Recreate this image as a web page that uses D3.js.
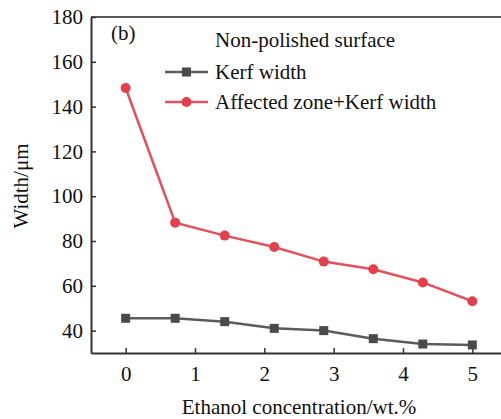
<!DOCTYPE html>
<html lang="en">
<head>
    <meta charset="utf-8">
    <style type="text/css">
        body { margin: 0; background: #fff; }
        .axis path, .axis line { stroke: #333; }
    </style>
</head>
<body>
<svg width="501" height="419"></svg>

<script src="https://d3js.org/d3.v7.min.js" type="text/javascript"></script>

<script type="text/javascript">
    // eight samples spread evenly over the 0-5 axis
    var xValues = [0, 5 / 7, 10 / 7, 15 / 7, 20 / 7, 25 / 7, 30 / 7, 5];
    var kerfWidth = [45.5, 45.5, 44, 41, 40, 36.4, 34, 33.6];
    var affectedWidth = [148.3, 88.2, 82.4, 77.3, 70.8, 67.4, 61.5, 53.1];
    var xTicks = [0, 1, 2, 3, 4, 5];
    var yTicks = [40, 60, 80, 100, 120, 140, 160, 180];
    var seriesNames = ["Kerf width", "Affected zone+Kerf width"];

    var svg = d3.select("svg"),
        mLeft = 91, mTop = 17, mRight = 507, mBottom = 353,
        fs = 21;

    var x = d3.scaleLinear().domain([-0.5, 5.5]).range([mLeft, mRight]);
    var y = d3.scaleLinear().domain([30, 180]).range([mBottom, mTop]);

    // frame top line
    svg.append("line")
        .attr("x1", mLeft).attr("x2", mRight)
        .attr("y1", mTop).attr("y2", mTop)
        .attr("stroke", "#222").attr("stroke-width", 1.5);

    var xAxis = svg.append("g")
        .attr("class", "axis")
        .attr("transform", "translate(0," + mBottom + ")")
        .call(d3.axisBottom(x).tickValues(xTicks).tickFormat(d3.format("d"))
            .tickSize(-5).tickPadding(13).tickSizeOuter(0));
    xAxis.select(".domain").attr("stroke-width", 2);
    xAxis.selectAll("line").attr("stroke-width", 1.5);
    xAxis.selectAll("text").attr("font-size", fs).attr("dy", "0.71em");

    var yAxis = svg.append("g")
        .attr("class", "axis")
        .attr("transform", "translate(" + mLeft + ",0)")
        .call(d3.axisLeft(y).tickValues(yTicks).tickFormat(d3.format("d"))
            .tickSize(-5).tickPadding(8).tickSizeOuter(0));
    yAxis.select(".domain").attr("stroke-width", 2);
    yAxis.selectAll("line").attr("stroke-width", 1.5);
    yAxis.selectAll("text").attr("font-size", fs);

    var line = d3.line()
        .x(function (d, i) { return x(xValues[i]); })
        .y(function (d) { return y(d); });

    // kerf width
    svg.append("path")
        .datum(kerfWidth)
        .attr("d", line)
        .attr("fill", "none")
        .attr("stroke", "#5c5c5c")
        .attr("stroke-width", 2.5);
    svg.selectAll(".sq")
        .data(kerfWidth)
        .enter().append("rect")
        .attr("class", "sq")
        .attr("x", function (d, i) { return x(xValues[i]) - 4.5; })
        .attr("y", function (d) { return y(d) - 4.5; })
        .attr("width", 9).attr("height", 9)
        .attr("fill", "#4a4a4a");

    // affected zone + kerf width
    svg.append("path")
        .datum(affectedWidth)
        .attr("d", line)
        .attr("fill", "none")
        .attr("stroke", "#e0525c")
        .attr("stroke-width", 2.5);
    svg.selectAll(".dot")
        .data(affectedWidth)
        .enter().append("circle")
        .attr("class", "dot")
        .attr("cx", function (d, i) { return x(xValues[i]); })
        .attr("cy", function (d) { return y(d); })
        .attr("r", 5)
        .attr("fill", "#e2404e");

    // labels
    svg.append("text").attr("x", 111).attr("y", 40).attr("font-size", fs).text("(b)");
    svg.append("text").attr("x", 215).attr("y", 47).attr("font-size", fs).text("Non-polished surface");

    var legend = svg.append("g");
    var lg = legend.selectAll("g")
        .data(seriesNames)
        .enter().append("g")
        .attr("transform", function (d, i) { return "translate(0," + (72 + i * 30) + ")"; });
    lg.append("line")
        .attr("x1", 165).attr("x2", 208)
        .attr("stroke", function (d, i) { return i ? "#e0525c" : "#5c5c5c"; })
        .attr("stroke-width", 2.5);
    lg.each(function (d, i) {
        var g = d3.select(this);
        if (i === 0) g.append("rect").attr("x", 182).attr("y", -4.5).attr("width", 9).attr("height", 9).attr("fill", "#4a4a4a");
        else g.append("circle").attr("cx", 186.5).attr("r", 5).attr("fill", "#e2404e");
    });
    lg.append("text")
        .attr("x", 215).attr("dy", "0.35em")
        .attr("font-size", fs)
        .text(function (d) { return d; });

    svg.append("text")
        .attr("x", 299).attr("y", 414)
        .attr("text-anchor", "middle")
        .attr("font-size", fs)
        .text("Ethanol concentration/wt.%");

    svg.append("text")
        .attr("transform", "translate(28,186) rotate(-90)")
        .attr("text-anchor", "middle")
        .attr("font-size", fs)
        .text("Width/μm");

    // serif type everywhere, like the figure
    svg.selectAll("text")
        .style("font-family", "'Liberation Serif'")
        .style("fill", "#111");
</script>

</body>
</html>
